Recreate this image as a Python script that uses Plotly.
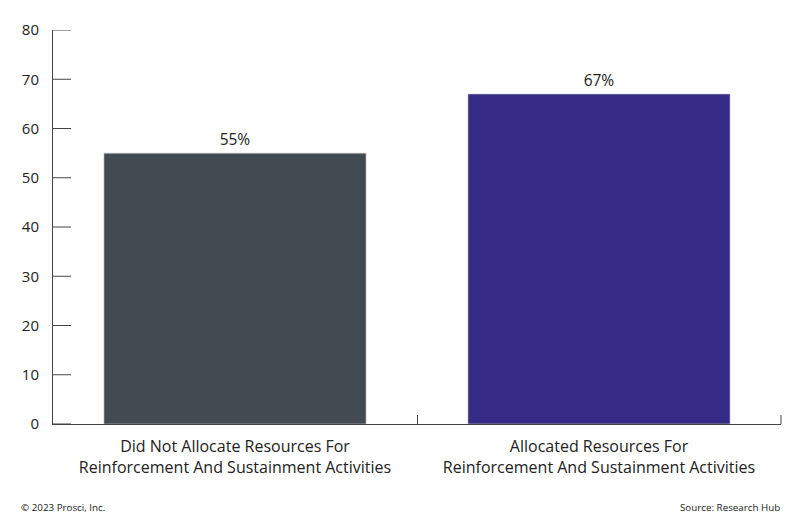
import plotly.graph_objects as go

categories = ["Did Not Allocate Resources For<br>Reinforcement And Sustainment Activities",
              "Allocated Resources For<br>Reinforcement And Sustainment Activities"]
values = [55, 67]
labels = ["55%", "67%"]
colors = ["#424a52", "#352a86"]
y_ticks = [0, 10, 20, 30, 40, 50, 60, 70, 80]

fig = go.Figure(go.Bar(
    x=categories, y=values, text=labels, textposition="outside",
    marker=dict(color=colors, line=dict(color="#c8c8c8", width=0.6)),
    textfont=dict(size=15.5, color="#222"),
    cliponaxis=False,
))

fig.update_layout(
    width=800, height=524,
    margin=dict(l=53, r=19, t=30, b=100),
    plot_bgcolor="white", paper_bgcolor="white",
    font=dict(family="Open Sans", size=14, color="#222"),
    bargap=0.28,
    showlegend=False,
)
fig.update_yaxes(range=[0, 80], tickvals=y_ticks, showgrid=False, ticks="",
                 showline=True, linecolor="#444", linewidth=1,
                 tickfont=dict(size=15), ticklabelstandoff=10, zeroline=False)
fig.update_xaxes(range=[-0.5, 1.5], showgrid=False, ticks="inside", ticklen=9, tickcolor="#444",
                 tickson="boundaries", showline=True, linecolor="#444", linewidth=1,
                 tickfont=dict(size=16), ticklabelstandoff=8)

# inside y-axis tick marks
for t in y_ticks:
    fig.add_shape(type="line", xref="x domain", yref="y", x0=0, x1=18 / 728, y0=t, y1=t,
                  line=dict(color="#444", width=1))
# right-end boundary tick on the category axis
fig.add_shape(type="line", xref="x domain", yref="y domain", x0=1, x1=1, y0=0, y1=9 / 394,
              line=dict(color="#444", width=1))

fig.add_annotation(text="© 2023 Prosci, Inc.", xref="paper", yref="paper",
                   x=-0.047, y=-0.213, xanchor="left", yanchor="middle",
                   showarrow=False, font=dict(size=9.8, color="#222"))
fig.add_annotation(text="Source: Research Hub", xref="paper", yref="paper",
                   x=1.001, y=-0.213, xanchor="right", yanchor="middle",
                   showarrow=False, font=dict(size=9.8, color="#222"))

fig.write_html("out.html")
